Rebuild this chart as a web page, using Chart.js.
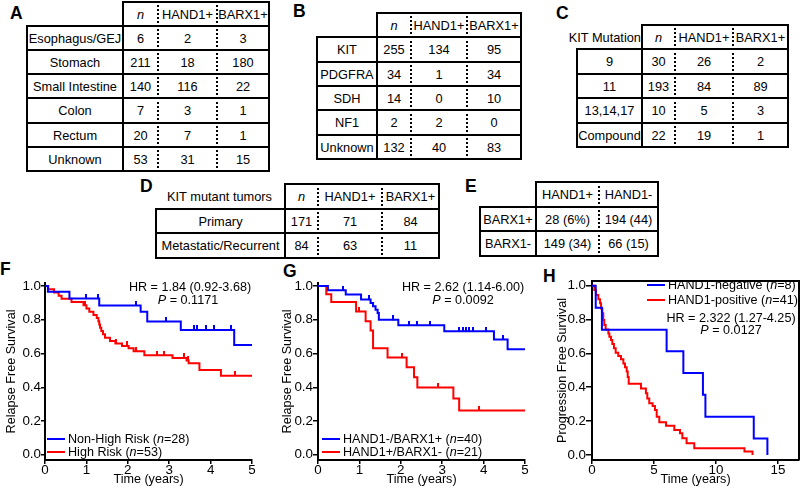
<!DOCTYPE html>
<html>
<head>
<meta charset="utf-8">
<script src="https://cdn.jsdelivr.net/npm/chart.js@4.4.0/dist/chart.umd.min.js"></script>
<style>
  body { margin: 0; background: #fff; }
  #fig { position: relative; width: 800px; height: 489px; overflow: hidden;
         font-family: 'Liberation Sans', Arial, sans-serif; color: #000; }
  .panel { position: absolute; font-weight: bold; font-size: 17.5px; line-height: 1; }
  .cell { position: absolute; box-sizing: border-box; display: flex; align-items: center;
          justify-content: center; font-size: 12.8px; white-space: nowrap; }
  .txt { position: absolute; font-size: 12.6px; line-height: 1; white-space: nowrap;
         transform: translateX(-50%); }
  .leg { position: absolute; font-size: 12.6px; line-height: 13px; white-space: nowrap; }
  .leg .sw { display: inline-block; width: 18px; height: 2px; vertical-align: middle;
             margin-right: 3px; position: relative; top: -1px; }
  canvas { position: absolute; }
</style>
</head>
<body>
<div id="fig">
  <div class="panel" style="left:10px;top:5px">A</div>
  <div class="panel" style="left:293px;top:3px">B</div>
  <div class="panel" style="left:556px;top:5px">C</div>
  <div class="panel" style="left:140px;top:178px">D</div>
  <div class="panel" style="left:465px;top:178px">E</div>
  <div class="panel" style="left:0px;top:261px">F</div>
  <div class="panel" style="left:283px;top:263px">G</div>
  <div class="panel" style="left:543px;top:268px">H</div>

  <canvas id="chartF" width="260" height="217" style="left:0px;top:270px"></canvas>
  <canvas id="chartG" width="260" height="217" style="left:273px;top:270px"></canvas>
  <canvas id="chartH" width="253" height="217" style="left:547px;top:270px"></canvas>

  <div class="txt" style="left:190px;top:281px">HR = 1.84 (0.92-3.68)</div>
  <div class="txt" style="left:188px;top:294px"><i>P</i> = 0.1171</div>
  <div class="leg" style="left:47px;top:433px"><span class="sw" style="background:#0000ff"></span>Non-High Risk (<i>n</i>=28)</div>
  <div class="leg" style="left:47px;top:446px"><span class="sw" style="background:#ff0000"></span>High Risk (<i>n</i>=53)</div>

  <div class="txt" style="left:463px;top:281px">HR = 2.62 (1.14-6.00)</div>
  <div class="txt" style="left:463px;top:294px"><i>P</i> = 0.0092</div>
  <div class="leg" style="left:322px;top:433px"><span class="sw" style="background:#0000ff"></span>HAND1-/BARX1+ (<i>n</i>=40)</div>
  <div class="leg" style="left:322px;top:446px"><span class="sw" style="background:#ff0000"></span>HAND1+/BARX1- (<i>n</i>=21)</div>

  <div class="leg" style="left:647px;top:279px"><span class="sw" style="background:#0000ff"></span>HAND1-negative (<i>n</i>=8)</div>
  <div class="leg" style="left:647px;top:294px"><span class="sw" style="background:#ff0000"></span>HAND1-positive (<i>n</i>=41)</div>
  <div class="txt" style="left:731px;top:312px">HR = 2.322 (1.27-4.25)</div>
  <div class="txt" style="left:731px;top:324px"><i>P</i> = 0.0127</div>
</div>

<script>
// ---- tables ----
const countHeaders = ['<i>n</i>', 'HAND1+', 'BARX1+'];

const siteLabels = ['Esophagus/GEJ', 'Stomach', 'Small Intestine', 'Colon', 'Rectum', 'Unknown'];
const siteN = [6, 211, 140, 7, 20, 53];
const siteHand1 = [2, 18, 116, 3, 7, 31];
const siteBarx1 = [3, 180, 22, 1, 1, 15];

const genotypeLabels = ['KIT', 'PDGFRA', 'SDH', 'NF1', 'Unknown'];
const genotypeN = [255, 34, 14, 2, 132];
const genotypeHand1 = [134, 1, 0, 2, 40];
const genotypeBarx1 = [95, 34, 10, 0, 83];

const exonLabels = ['9', '11', '13,14,17', 'Compound'];
const exonN = [30, 193, 10, 22];
const exonHand1 = [26, 84, 5, 19];
const exonBarx1 = [2, 89, 3, 1];

const statusLabels = ['Primary', 'Metastatic/Recurrent'];
const statusN = [171, 84];
const statusHand1 = [71, 63];
const statusBarx1 = [84, 11];

const crossHeaders = ['HAND1+', 'HAND1-'];
const crossLabels = ['BARX1+', 'BARX1-'];
const crossHand1Pos = ['28 (6%)', '149 (34)'];
const crossHand1Neg = ['194 (44)', '66 (15)'];

// ---- survival curves (time in years, survival fraction) ----
const fLowTimes = [0, 0.07, 0.59, 1.31, 2.31, 2.47, 3.28, 4.57, 5];
const fLowSurv = [1, 0.966, 0.926, 0.885, 0.848, 0.79, 0.74, 0.651, 0.651];
const fLowCensor = [1.0, 1.29, 2.2, 2.92, 3.6, 3.68, 3.88, 4.08, 4.49];
const fHighTimes = [0, 0.08, 0.22, 0.33, 0.40, 0.64, 0.93, 1.00, 1.07, 1.17, 1.25, 1.29, 1.31, 1.33, 1.36,
  1.40, 1.45, 1.57, 1.70, 1.86, 2.02, 2.14, 2.40, 3.08, 3.42, 3.47, 3.73, 4.25, 5];
const fHighSurv = [1, 0.981, 0.962, 0.943, 0.924, 0.905, 0.886, 0.867, 0.848, 0.829, 0.81, 0.791, 0.772, 0.753,
  0.734, 0.715, 0.694, 0.675, 0.66, 0.645, 0.632, 0.614, 0.59, 0.574, 0.558, 0.543, 0.503, 0.469, 0.469];
const fHighCensor = [0.97, 1.72, 1.99, 2.2, 2.7, 2.87, 3.36, 3.45, 4.6];

const gNegTimes = [0, 0.24, 0.67, 1.04, 1.27, 1.33, 1.39, 1.44, 1.47, 1.94, 3.05, 4.25, 4.58, 5];
const gNegSurv = [1, 0.975, 0.95, 0.92, 0.9, 0.88, 0.86, 0.84, 0.8, 0.768, 0.732, 0.683, 0.625, 0.625];
const gNegCensor = [0.6, 1.23, 1.81, 2.2, 2.38, 2.7, 3.4, 3.5, 3.58, 3.65, 3.75, 4.05, 4.47];
const gPosTimes = [0, 0.2, 0.32, 0.92, 1.15, 1.27, 1.33, 1.68, 2.14, 2.32, 2.4, 3.27, 3.41, 5];
const gPosSurv = [1, 0.952, 0.905, 0.849, 0.792, 0.736, 0.632, 0.576, 0.518, 0.46, 0.399, 0.333, 0.263, 0.263];
const gPosCensor = [1.0, 2.02, 2.89, 3.88];

const hNegTimes = [0, 0.3, 0.8, 6.02, 7.37, 8.95, 9.15, 13.05, 14.15];
const hNegSurv = [1, 0.87, 0.74, 0.613, 0.484, 0.355, 0.226, 0.097, 0];
const hPosTimes = [0, 0.19, 0.32, 0.51, 0.65, 0.73, 0.83, 0.91, 0.99, 1.1, 1.32, 1.4, 1.53, 1.64, 1.77, 1.91,
  2.12, 2.34, 2.53, 2.66, 2.8, 2.88, 2.96, 3.95, 4.35, 4.46, 4.62, 4.89, 5.08, 5.22, 5.43, 5.97, 6.64, 7.1,
  7.29, 7.63, 8.25, 12.3, 12.95];
const hPosSurv = [1, 0.975, 0.945, 0.92, 0.896, 0.866, 0.837, 0.797, 0.768, 0.742, 0.718, 0.699, 0.679, 0.655,
  0.63, 0.604, 0.585, 0.565, 0.541, 0.518, 0.493, 0.46, 0.42, 0.393, 0.364, 0.334, 0.305, 0.289, 0.266, 0.226,
  0.193, 0.173, 0.148, 0.128, 0.098, 0.069, 0.039, 0.02, 0];

const yTickValues = [0, 0.2, 0.4, 0.6, 0.8, 1.0];
const xTicksShort = [0, 1, 2, 3, 4, 5];
const xTicksLong = [0, 5, 10, 15];

const fig = document.getElementById('fig');

// cols: x of each column edge, dotted: indexes of edges drawn dotted
function drawTable(cols, top, rowH, dotted, headFirst, headAlign, headers, labels, columns) {
  const rows = [[headFirst, ...headers]];
  labels.forEach((label, i) => rows.push([label, ...columns.map((c) => c[i])]));
  rows.forEach((row, r) => {
    row.forEach((value, c) => {
      const cell = document.createElement('div');
      cell.className = 'cell';
      const x0 = cols[c];
      const x1 = cols[c + 1];
      const y0 = Math.round(top + r * rowH);
      const y1 = Math.round(top + (r + 1) * rowH);
      cell.style.left = x0 - 1 + 'px';
      cell.style.top = y0 - 1 + 'px';
      cell.style.width = x1 - x0 + 2 + 'px';
      cell.style.height = y1 - y0 + 2 + 'px';
      if (r === 0 && c === 0) {
        cell.style.justifyContent = headAlign;
        cell.style.paddingRight = '2px';
      } else {
        cell.style.borderStyle = 'solid';
        cell.style.borderWidth = '2px';
        cell.style.borderColor = '#000';
        if (dotted.includes(c)) cell.style.borderLeftStyle = 'dotted';
        if (dotted.includes(c + 1)) cell.style.borderRightStyle = 'dotted';
      }
      cell.innerHTML = value;
      fig.appendChild(cell);
    });
  });
}

drawTable([27, 123, 158, 217, 269], 2, 24.1, [2, 3], '', 'center', countHeaders,
  siteLabels, [siteN, siteHand1, siteBarx1]);
drawTable([317, 377, 411, 467, 521], 13, 24.3, [2, 3], '', 'center', countHeaders,
  genotypeLabels, [genotypeN, genotypeHand1, genotypeBarx1]);
drawTable([577, 642, 675, 733, 788], 25, 24.4, [2, 3], 'KIT Mutation', 'flex-end', countHeaders,
  exonLabels, [exonN, exonHand1, exonBarx1]);
drawTable([156, 285, 318, 382, 439], 184, 24.5, [2, 3], 'KIT mutant tumors', 'center', countHeaders,
  statusLabels, [statusN, statusHand1, statusBarx1]);
drawTable([480, 536, 599, 658], 182, 24.7, [2], '', 'center', crossHeaders,
  crossLabels, [crossHand1Pos, crossHand1Neg]);

// ---- Kaplan-Meier charts ----
const FONT = { family: "'Liberation Sans', Arial, sans-serif", size: 12.6 };
const TICK_FONT = { family: "'Liberation Sans', Arial, sans-serif", size: 13.4 };

function survivalAt(times, surv, t) {
  let s = surv[0];
  for (let i = 0; i < times.length; i++) {
    if (times[i] <= t) s = surv[i];
  }
  return s;
}

// small vertical tick above the curve for censored cases
function censorMark(color) {
  const c = document.createElement('canvas');
  c.width = 2;
  c.height = 9;
  const ctx = c.getContext('2d');
  ctx.fillStyle = color;
  ctx.fillRect(0, 0, 2, 5);
  return c;
}

function curve(times, surv, color) {
  return {
    data: times.map((t, i) => ({ x: t, y: surv[i] })),
    showLine: true,
    stepped: true,
    borderColor: color,
    borderWidth: 2,
    pointRadius: 0,
  };
}

function censors(cTimes, times, surv, color) {
  return {
    data: cTimes.map((t) => ({ x: t, y: survivalAt(times, surv, t) })),
    showLine: false,
    pointStyle: censorMark(color),
  };
}

const framePlugin = {
  id: 'frame',
  afterDraw(chart, args, opts) {
    if (!opts.show) return;
    const { ctx, chartArea } = chart;
    ctx.save();
    ctx.strokeStyle = '#000';
    ctx.lineWidth = 2;
    ctx.beginPath();
    ctx.moveTo(chartArea.left, chartArea.top);
    ctx.lineTo(chartArea.right, chartArea.top);
    ctx.lineTo(chartArea.right, chartArea.bottom);
    ctx.stroke();
    ctx.restore();
  },
};

function kmChart(id, datasets, s) {
  return new Chart(document.getElementById(id), {
    type: 'scatter',
    data: { datasets },
    plugins: [framePlugin],
    options: {
      responsive: false,
      animation: false,
      devicePixelRatio: 1,
      events: [],
      layout: { padding: { top: s.padTop, right: s.padRight, left: 0, bottom: 0 } },
      plugins: {
        legend: { display: false },
        tooltip: { enabled: false },
        frame: { show: s.frame },
      },
      scales: {
        x: {
          type: 'linear',
          min: 0,
          max: s.xMax,
          afterBuildTicks: (scale) => {
            scale.ticks = s.xTicks.map((v) => ({ value: v }));
          },
          afterFit: (scale) => {
            scale.height = 27;
          },
          grid: { drawOnChartArea: false, drawTicks: true, tickLength: 4, color: '#000', lineWidth: 1.5 },
          border: { color: '#000', width: 2 },
          ticks: { color: '#000', font: TICK_FONT, padding: -2, maxRotation: 0, callback: (v) => String(v) },
          title: { display: true, text: 'Time (years)', color: '#000', font: FONT, padding: 0 },
        },
        y: {
          type: 'linear',
          min: s.yMin,
          max: s.yMax,
          afterBuildTicks: (scale) => {
            scale.ticks = yTickValues.map((v) => ({ value: v }));
          },
          afterFit: (scale) => {
            scale.width = 45;
          },
          grid: { drawOnChartArea: false, drawTicks: true, tickLength: s.tickLen, color: '#000', lineWidth: 1.5 },
          border: { color: '#000', width: 2 },
          ticks: { color: '#000', font: TICK_FONT, padding: 0, callback: (v) => v.toFixed(1) },
          title: { display: true, text: s.yTitle, color: '#000', font: FONT, padding: { top: s.titlePad, bottom: 0 } },
        },
      },
    },
  });
}

kmChart('chartF', [
  curve(fLowTimes, fLowSurv, '#0000ff'),
  curve(fHighTimes, fHighSurv, '#ff0000'),
  censors(fLowCensor, fLowTimes, fLowSurv, '#0000ff'),
  censors(fHighCensor, fHighTimes, fHighSurv, '#ff0000'),
], { padTop: 13, padRight: 8, xMax: 5, xTicks: xTicksShort, yMin: -0.031, yMax: 1.018,
  tickLen: 4, titlePad: 3.8, yTitle: 'Relapse Free Survival', frame: false });

kmChart('chartG', [
  curve(gNegTimes, gNegSurv, '#0000ff'),
  curve(gPosTimes, gPosSurv, '#ff0000'),
  censors(gNegCensor, gNegTimes, gNegSurv, '#0000ff'),
  censors(gPosCensor, gPosTimes, gPosSurv, '#ff0000'),
], { padTop: 13, padRight: 8, xMax: 5, xTicks: xTicksShort, yMin: -0.031, yMax: 1.018,
  tickLen: 5, titlePad: 7, yTitle: 'Relapse Free Survival', frame: false });

kmChart('chartH', [
  curve(hNegTimes, hNegSurv, '#0000ff'),
  curve(hPosTimes, hPosSurv, '#ff0000'),
], { padTop: 11, padRight: 1, xMax: 16.7, xTicks: xTicksLong, yMin: -0.03, yMax: 1.028,
  tickLen: 6, titlePad: 8, yTitle: 'Progression Free Survival', frame: true });
</script>
</body>
</html>
